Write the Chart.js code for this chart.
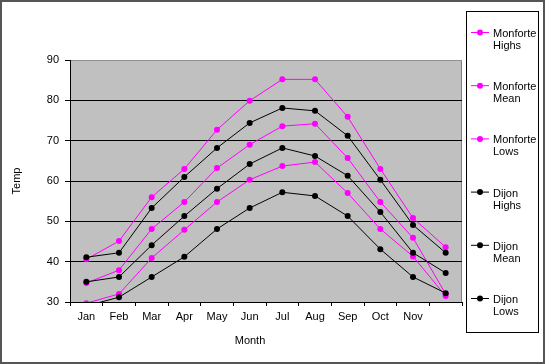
<!DOCTYPE html>
<html>
<head>
<meta charset="utf-8">
<script src="https://cdn.jsdelivr.net/npm/chart.js@4"></script>
<style>
  html, body { margin: 0; padding: 0; background: #fff; }
  #wrap { width: 545px; height: 364px; position: relative; }
</style>
</head>
<body>
<div id="wrap"><canvas id="c"></canvas></div>
<script>
// --- data ---
const months = ['Jan', 'Feb', 'Mar', 'Apr', 'May', 'Jun', 'Jul', 'Aug', 'Sep', 'Oct', 'Nov', ''];

const monforteHighs = [40.6, 45.1, 56.0, 63.0, 72.7, 79.9, 85.2, 85.2, 75.9, 63.0, 50.8, 43.6];
const monforteMean  = [34.7, 37.9, 48.1, 54.8, 63.2, 69.0, 73.6, 74.2, 65.7, 54.8, 45.9, 32.0];
const monforteLows  = [29.7, 32.0, 40.9, 47.9, 54.8, 60.3, 63.7, 64.7, 57.0, 48.1, 41.3, 31.5];
const dijonHighs    = [41.1, 42.2, 53.3, 61.0, 68.2, 74.4, 78.1, 77.4, 71.2, 60.3, 49.1, 42.2];
const dijonMean     = [35.0, 36.2, 44.1, 51.3, 58.1, 64.2, 68.2, 66.2, 61.3, 52.3, 42.2, 37.2];
const dijonLows     = [29.0, 31.2, 36.2, 41.2, 48.1, 53.3, 57.2, 56.3, 51.3, 43.1, 36.2, 32.2];

const seriesNames = [['Monforte', 'Highs'], ['Monforte', 'Mean'], ['Monforte', 'Lows'],
                     ['Dijon', 'Highs'], ['Dijon', 'Mean'], ['Dijon', 'Lows']];
const seriesData  = [monforteHighs, monforteMean, monforteLows, dijonHighs, dijonMean, dijonLows];
const seriesColor = ['#FF00FF', '#FF00FF', '#FF00FF', '#000000', '#000000', '#000000'];

const FONT = { family: '"Liberation Sans", Arial, sans-serif', size: 11 };

// background, frame, titles and the boxed legend
const decor = {
  id: 'decor',
  beforeDraw(chart) {
    const { ctx, chartArea: a } = chart;
    ctx.save();
    ctx.fillStyle = '#C0C0C0';
    ctx.fillRect(a.left, a.top, a.right - a.left, a.bottom - a.top);
    ctx.strokeStyle = '#808080';
    ctx.lineWidth = 1;
    ctx.beginPath();
    ctx.moveTo(a.right - 0.5, a.top);
    ctx.lineTo(a.right - 0.5, a.bottom);
    ctx.stroke();
    ctx.restore();
  },
  afterDraw(chart) {
    const { ctx } = chart;
    ctx.save();
    // outer frame
    ctx.strokeStyle = '#555';
    ctx.lineWidth = 2;
    ctx.strokeRect(1, 1, 543, 362);

    ctx.fillStyle = '#000';
    ctx.font = `${FONT.size}px ${FONT.family}`;
    ctx.textAlign = 'center';
    ctx.textBaseline = 'middle';
    ctx.fillText('Month', 250, 341);
    ctx.save();
    ctx.translate(17, 181);
    ctx.rotate(-Math.PI / 2);
    ctx.fillText('Temp', 0, 0);
    ctx.restore();

    // legend box
    ctx.strokeStyle = '#000';
    ctx.lineWidth = 1;
    ctx.strokeRect(466.5, 11.5, 72, 321);
    ctx.textAlign = 'left';
    seriesNames.forEach((nm, i) => {
      const y = 32 + i * 53.2;
      ctx.strokeStyle = seriesColor[i];
      ctx.fillStyle = seriesColor[i];
      ctx.beginPath();
      ctx.moveTo(471, y + 0.5);
      ctx.lineTo(489, y + 0.5);
      ctx.stroke();
      ctx.beginPath();
      ctx.arc(480, y + 0.5, 3, 0, Math.PI * 2);
      ctx.fill();
      ctx.fillStyle = '#000';
      ctx.fillText(nm[0], 493, y + 2);
      ctx.fillText(nm[1], 493, y + 14);
    });
    ctx.restore();
  }
};

new Chart(document.getElementById('c'), {
  type: 'line',
  data: {
    labels: months,
    datasets: seriesData.map((d, i) => ({
      label: seriesNames[i].join(' '),
      data: d,
      borderColor: seriesColor[i],
      backgroundColor: seriesColor[i],
      pointBackgroundColor: seriesColor[i],
      pointBorderColor: seriesColor[i],
      pointRadius: 3,
      pointBorderWidth: 0,
      borderWidth: 1,
      tension: 0,
      order: i < 3 ? 1 : 0,
    })),
  },
  options: {
    responsive: true, maintainAspectRatio: false, animation: false,
    layout: { padding: { left: 0, top: 60, right: 83, bottom: 0 } },
    plugins: { legend: { display: false }, tooltip: { enabled: false } },
    scales: {
      x: {
        offset: true,
        grid: { offset: true, drawOnChartArea: false, color: '#000', tickLength: 4 },
        border: { color: '#000' },
        ticks: { color: '#000', font: FONT, padding: 4, maxRotation: 0, autoSkip: false },
        afterFit: s => { s.height = 62; },
      },
      y: {
        min: 30, max: 90,
        ticks: { stepSize: 10, color: '#000', font: FONT, padding: 6 },
        grid: { color: c => (c.tick && c.tick.value === 90 ? '#909090' : '#000'), tickColor: '#000', tickLength: 5 },
        border: { color: '#000' },
        afterFit: s => { s.width = 70; },
      },
    },
  },
  plugins: [decor],
});
</script>
</body>
</html>
